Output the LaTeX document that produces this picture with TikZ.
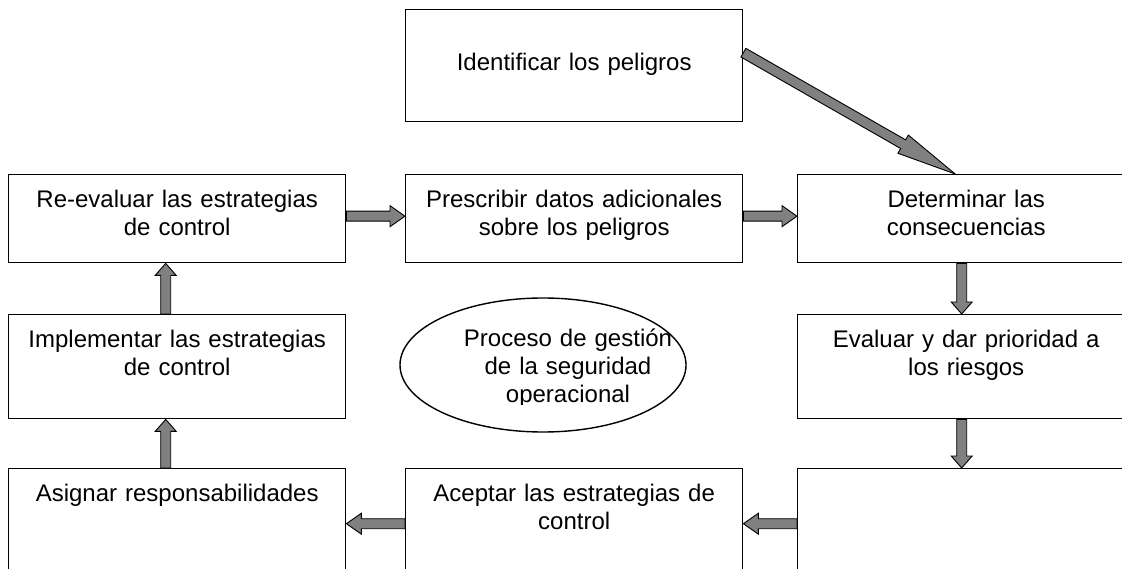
\documentclass[tikz,border=0pt]{standalone}
\usepackage{fontspec}
\setmainfont{Liberation Sans}
\usepackage{tikz}
\usetikzlibrary{shapes, calc}

% block arrow: [head length]{from}{tip}
\newcommand{\blockarrow}[3][14pt]{%
    \path (#2) coordinate (bas) (#3) coordinate (bat);
    \path ($(bat)!#1!(bas)$) coordinate (bah);
    \draw[flecha] ($(bas)!5pt!90:(bat)$) -- ($(bah)!5pt!90:(bat)$)
        -- ($(bah)!10.5pt!90:(bat)$) -- (bat)
        -- ($(bah)!10.5pt!-90:(bat)$) -- ($(bah)!5pt!-90:(bat)$)
        -- ($(bas)!5pt!-90:(bat)$) -- cycle;
}

\begin{document}
\begin{tikzpicture}[x=1pt, y=-1pt,
        font=\fontsize{24pt}{27.6pt}\selectfont,
        box/.style={draw, line width=1.4pt, inner sep=0pt, text width=337pt,
            align=center, text height=33pt, text depth=#1, anchor=north west},
        flecha/.style={draw=black, fill=gray, line width=0.9pt, line join=miter}]
        \useasboundingbox (0,0) rectangle (1122,569);
        \clip (0,0) rectangle (1122,569);

        \node[box=51pt, text height=61pt] (id) at (405,9) {Identificar los peligros};
        \node[box=55pt] (re) at (8,174) {Re-evaluar las estrategias\\de control};
        \node[box=55pt] (pre) at (405,174) {Prescribir datos adicionales\\sobre los peligros};
        \node[box=55pt] (det) at (797,174) {Determinar las\\consecuencias};
        \node[box=71pt] (impl) at (8,314) {Implementar las estrategias\\de control};
        \node[box=71pt] (eva) at (797,314) {Evaluar y dar prioridad a\\los riesgos};
        \node[box=77pt] (asig) at (8,468) {Asignar responsabilidades};
        \node[box=77pt] (acep) at (405,468) {Aceptar las estrategias de\\control};
        \node[box=77pt] (blank) at (797,468) {};

        \node[ellipse, draw, line width=1.4pt, minimum width=286pt, minimum height=134pt] (proc) at (543,365) {};
        \begin{scope}
            \clip (0,0) rectangle (1122,404);
            \node[text width=240pt, align=center, anchor=base] (proct) at (568,347)
                {Proceso de gestión\\de la seguridad\\operacional};
        \end{scope}

        \blockarrow[60pt]{[yshift=13pt]id.east}{[xshift=-11pt]det.north}
        \blockarrow[15pt]{[yshift=2.5pt]re.east}{[yshift=2.5pt]pre.west}
        \blockarrow[15pt]{[yshift=2.5pt]pre.east}{[yshift=2.5pt]det.west}
        \blockarrow[12pt]{[xshift=-4.5pt]det.south}{[xshift=-4.5pt]eva.north}
        \blockarrow[12pt]{[xshift=-4.5pt]eva.south}{[xshift=-4.5pt]blank.north}
        \blockarrow[15pt]{blank.west}{acep.east}
        \blockarrow[15pt]{acep.west}{asig.east}
        \blockarrow[12pt]{[xshift=-11.5pt]asig.north}{[xshift=-11.5pt]impl.south}
        \blockarrow[12pt]{[xshift=-11.5pt]impl.north}{[xshift=-11.5pt]re.south}
    \end{tikzpicture}
\end{document}
